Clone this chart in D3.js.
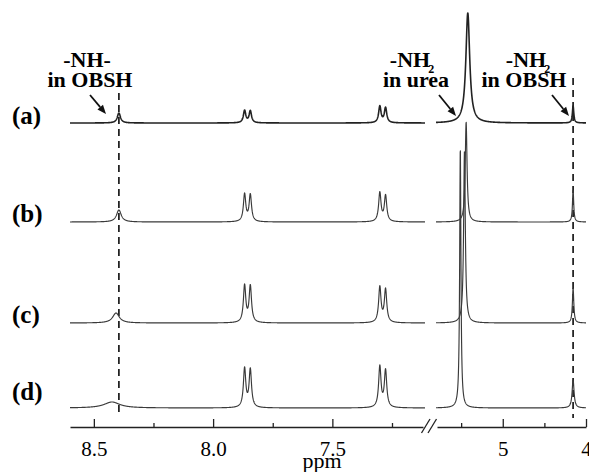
<!DOCTYPE html>
<html>
<head>
<meta charset="utf-8">
<script src="https://cdn.jsdelivr.net/npm/d3@7"></script>
<style>
  html, body { margin: 0; padding: 0; background: #fff; }
  svg { display: block; }
</style>
</head>
<body>
<svg id="chart" width="589" height="472"></svg>
<script>
// Stacked 1H NMR spectra (ppm) with a broken chemical-shift axis.
const spectrumLabels = ["(a)", "(b)", "(c)", "(d)"];
// vertical stacking offset of each spectrum (intensity units)
const stackOffsets = [304, 205, 104, 19];

// Peaks of each spectrum: [shift (ppm), height, half-width at half-height (ppm)]
const peaksNH = [            // -NH- of OBSH
  [8.395, 10, 0.008],
  [8.395, 12, 0.012],
  [8.407, 10, 0.017],
  [8.424, 6, 0.040]
];
const peaksArom1 = [         // aromatic doublet ~7.86 ppm (two lines each)
  [[7.868, 12.3, 0.006], [7.844, 12.0, 0.006]],
  [[7.868, 27.5, 0.006], [7.844, 27.0, 0.006]],
  [[7.868, 37.0, 0.006], [7.844, 36.5, 0.006]],
  [[7.868, 39.0, 0.006], [7.844, 38.0, 0.006]]
];
const peaksArom2 = [         // aromatic doublet ~7.29 ppm
  [[7.301, 16.5, 0.006], [7.277, 15.0, 0.006]],
  [[7.301, 29.0, 0.006], [7.277, 26.0, 0.006]],
  [[7.301, 35.5, 0.006], [7.277, 33.0, 0.006]],
  [[7.301, 41.0, 0.006], [7.277, 37.0, 0.006]]
];
const peaksUrea = [          // -NH2 of urea
  [5.420, 110, 0.028],
  [5.440, 100, 0.013],
  [5.460, 172, 0.012],
  [5.510, 261, 0.009]
];
const peaksNH2 = [           // -NH2 of OBSH
  [4.155, 17, 0.010],
  [4.155, 32, 0.009],
  [4.155, 35, 0.010],
  [4.155, 28, 0.014]
];

// axis ticks
const leftMajorTicks = [8.5, 8.0, 7.5];
const leftMinorTicks = [8.25, 7.75, 7.25];
const rightMajorTicks = [5, 4];
const rightMinorTicks = [5.5, 4.5];
const leftDomain = [8.6, 7.12];
const rightDomain = [5.79, 4.0];
const markerNH = 8.395;      // dashed guide through -NH- of OBSH
const markerNH2 = 4.155;     // dashed guide through -NH2 of OBSH

const FONT = "'Liberation Serif', Tinos, 'Times New Roman', serif";

const svg = d3.select("#chart").style("font-family", FONT);
const axisY = 427;

const xLeft = d3.scaleLinear().domain(leftDomain).range([70, 423]);
const xRight = d3.scaleLinear().domain(rightDomain).range([437, 586]);
const y = d3.scaleLinear().domain([0, 420]).range([axisY, axisY - 420]);

function peakList(i) {
  return [peaksNH[i], ...peaksArom1[i], ...peaksArom2[i], peaksUrea[i], peaksNH2[i]];
}
function lorentz(ppm, peaks) {
  let s = 0;
  for (const [c, h, w] of peaks) {
    const d = (ppm - c) / w;
    s += h / (1 + d * d);
  }
  return s;
}
function tracePoints(scale, i, x0, x1) {
  const pts = [];
  const peaks = peakList(i);
  for (let px = x0; px <= x1 + 1e-9; px += 0.2) {
    const ppm = scale.invert(px);
    pts.push([ppm, lorentz(ppm, peaks) + stackOffsets[i]]);
  }
  return pts;
}

const lineL = d3.line().x(d => xLeft(d[0])).y(d => y(d[1]));
const lineR = d3.line().x(d => xRight(d[0])).y(d => y(d[1]));

// dashed guides
svg.append("line")
  .attr("x1", xLeft(markerNH)).attr("x2", xLeft(markerNH))
  .attr("y1", 93).attr("y2", 413)
  .attr("stroke", "#1a1a1a").attr("stroke-width", 1.7).attr("stroke-dasharray", "7,5");
svg.append("line")
  .attr("x1", xRight(markerNH2)).attr("x2", xRight(markerNH2))
  .attr("y1", 78).attr("y2", 418)
  .attr("stroke", "#1a1a1a").attr("stroke-width", 1.7).attr("stroke-dasharray", "7,5");

// spectra
const traces = svg.append("g").attr("fill", "none").attr("stroke-linejoin", "round");
spectrumLabels.forEach((lab, i) => {
  const sw = i === 0 ? 1.6 : 1.15;
  const col = i === 0 ? "#222" : "#3a3a3a";
  traces.append("path").attr("d", lineL(tracePoints(xLeft, i, 70, 425)))
    .attr("stroke", col).attr("stroke-width", sw);
  traces.append("path").attr("d", lineR(tracePoints(xRight, i, 436, 586)))
    .attr("stroke", col).attr("stroke-width", sw);
});

// spectrum labels
const labelY = [124, 222, 323, 400];
svg.append("g").selectAll("text").data(spectrumLabels).join("text")
  .attr("x", 12).attr("y", (d, i) => labelY[i])
  .attr("font-family", FONT)
  .attr("font-size", 25).attr("font-weight", "bold")
  .text(d => d);

// axes (ticks point up, labels below)
function drawAxis(scale, major, minor, fmt) {
  const gMaj = svg.append("g").attr("transform", `translate(0,${axisY})`)
    .call(d3.axisBottom(scale).tickValues(major).tickFormat(fmt)
      .tickSizeInner(-8).tickSizeOuter(0).tickPadding(14));
  gMaj.attr("font-family", FONT).attr("font-size", 21);
  gMaj.selectAll("text").attr("fill", "#000");
  gMaj.selectAll("line, path").attr("stroke", "#222").attr("stroke-width", 1.3);
  const gMin = svg.append("g").attr("transform", `translate(0,${axisY})`)
    .call(d3.axisBottom(scale).tickValues(minor).tickFormat("")
      .tickSizeInner(-4).tickSizeOuter(0));
  gMin.select("path").remove();
  gMin.selectAll("line").attr("stroke", "#222").attr("stroke-width", 1.3);
}
drawAxis(xLeft, leftMajorTicks, leftMinorTicks, d3.format(".1f"));
drawAxis(xRight, rightMajorTicks, rightMinorTicks, d3.format("d"));

// axis break marks
[[421.5, 428], [428, 434.5]].forEach(([a, b]) => {
  svg.append("line").attr("x1", a).attr("y1", axisY + 6).attr("x2", b + 2).attr("y2", axisY - 8)
    .attr("stroke", "#222").attr("stroke-width", 1.3);
});

svg.append("text").attr("x", 322).attr("y", 468).attr("text-anchor", "middle")
  .attr("font-family", FONT).attr("font-size", 22).text("ppm");

// annotations
const ann = svg.append("g").attr("font-family", FONT).attr("font-size", 22)
  .attr("font-weight", "bold").attr("text-anchor", "middle");
ann.append("text").attr("x", 87).attr("y", 67).text("-NH-");
ann.append("text").attr("x", 90).attr("y", 87).text("in OBSH");

const t1 = ann.append("text").attr("x", 412).attr("y", 67);
t1.append("tspan").text("-NH");
t1.append("tspan").attr("font-size", 12).attr("dx", -2).attr("dy", 6).text("2");
ann.append("text").attr("x", 416).attr("y", 87).text("in urea");

const t2 = ann.append("text").attr("x", 528).attr("y", 67);
t2.append("tspan").text("-NH");
t2.append("tspan").attr("font-size", 12).attr("dx", -2).attr("dy", 6).text("2");
ann.append("text").attr("x", 524).attr("y", 87).text("in OBSH");

// arrows
function arrow(x1, y1, x2, y2) {
  const ang = Math.atan2(y2 - y1, x2 - x1);
  const L = 9, W = 3.6;
  const bx = x2 - L * Math.cos(ang), by = y2 - L * Math.sin(ang);
  svg.append("line").attr("x1", x1).attr("y1", y1).attr("x2", bx).attr("y2", by)
    .attr("stroke", "#111").attr("stroke-width", 1.8);
  const px = -Math.sin(ang) * W, py = Math.cos(ang) * W;
  svg.append("path")
    .attr("d", `M${x2},${y2}L${bx + px},${by + py}L${bx - px},${by - py}Z`)
    .attr("fill", "#111");
}
arrow(90, 95, 106, 114);
arrow(439, 95, 456, 116);
arrow(552, 95, 569, 116);
</script>
</body>
</html>
